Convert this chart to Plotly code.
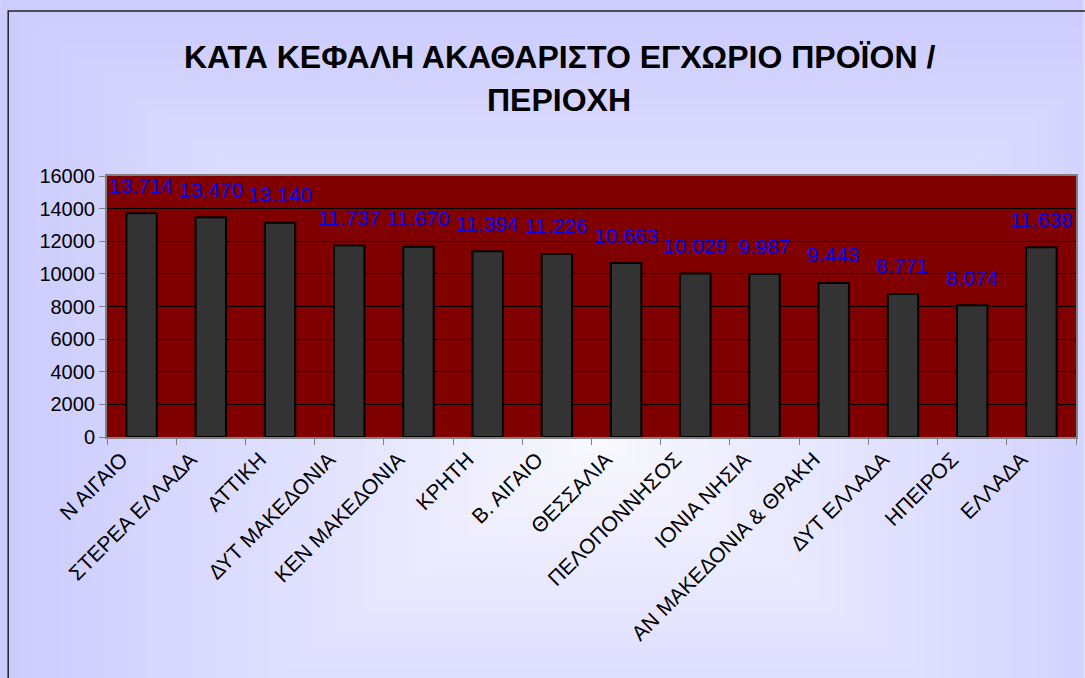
import base64
import struct
import zlib

import numpy as np
import plotly.graph_objects as go

# Data
regions = ["Ν ΑΙΓΑΙΟ", "ΣΤΕΡΕΑ ΕΛΛΑΔΑ", "ΑΤΤΙΚΗ", "ΔΥΤ ΜΑΚΕΔΟΝΙΑ", "ΚΕΝ ΜΑΚΕΔΟΝΙΑ",
           "ΚΡΗΤΗ", "Β. ΑΙΓΑΙΟ", "ΘΕΣΣΑΛΙΑ", "ΠΕΛΟΠΟΝΝΗΣΟΣ", "ΙΟΝΙΑ ΝΗΣΙΑ",
           "ΑΝ ΜΑΚΕΔΟΝΙΑ & ΘΡΑΚΗ", "ΔΥΤ ΕΛΛΑΔΑ", "ΗΠΕΙΡΟΣ", "ΕΛΛΑΔΑ"]
gdp_per_capita = [13714, 13470, 13140, 11737, 11670, 11394, 11226, 10663,
                  10029, 9987, 9443, 8771, 8074, 11638]
y_ticks = [0, 2000, 4000, 6000, 8000, 10000, 12000, 14000, 16000]

title_lines = ["ΚΑΤΑ ΚΕΦΑΛΗ ΑΚΑΘΑΡΙΣΤΟ ΕΓΧΩΡΙΟ ΠΡΟΪΟΝ /", "ΠΕΡΙΟΧΗ"]

FONT = "Liberation Sans, Arial, sans-serif"
W, H = 1085, 678
L, R, T, B = 107, 1078, 176, 437  # plot area in pixels
PW, PH = R - L, B - T


def px_x(x):
    return (x - L) / PW


def px_y(y):
    return (B - y) / PH


# Background gradient (light centre fading to lavender), as a small png
def gradient_png(w, h):
    ys, xs = np.mgrid[0:h, 0:w]
    fx = xs * W / (w - 1)
    fy = ys * H / (h - 1)
    t = np.maximum(np.abs(fx - 600) / 600, np.abs(fy - 440) / 440)
    t = np.clip(t, 0, 1) ** 0.9
    light = np.array([250, 250, 255])
    dark = np.array([204, 204, 255])
    img = (light[None, None, :] * (1 - t[..., None]) + dark[None, None, :] * t[..., None]).astype(np.uint8)
    raw = b"".join(b"\x00" + img[r].tobytes() for r in range(h))

    def chunk(tag, data):
        return struct.pack(">I", len(data)) + tag + data + struct.pack(">I", zlib.crc32(tag + data) & 0xffffffff)

    png = b"\x89PNG\r\n\x1a\n"
    png += chunk(b"IHDR", struct.pack(">IIBBBBB", w, h, 8, 2, 0, 0, 0))
    png += chunk(b"IDAT", zlib.compress(raw, 9))
    png += chunk(b"IEND", b"")
    return "data:image/png;base64," + base64.b64encode(png).decode()


fig = go.Figure(go.Bar(
    x=regions,
    y=gdp_per_capita,
    marker=dict(color="#333333", line=dict(color="black", width=2)),
    width=0.44,
    hoverinfo="x+y",
))

# data labels (Greek thousands separator)
for reg, val in zip(regions, gdp_per_capita):
    fig.add_annotation(
        x=reg, y=val, text=f"{val:,}".replace(",", "."),
        showarrow=False, yshift=28, yanchor="middle",
        font=dict(family=FONT, size=21, color="#0000FF"),
    )

# title
for i, line in enumerate(title_lines):
    fig.add_annotation(
        xref="paper", yref="paper", x=px_x(560), y=px_y(57 + 43 * i),
        text=f"<b>{line}</b>", showarrow=False, xanchor="center", yanchor="middle",
        font=dict(family=FONT, size=32, color="black"),
    )

fig.update_layout(
    width=W, height=H,
    margin=dict(l=L, r=W - R, t=T, b=H - B, pad=0),
    paper_bgcolor="#DCDCFF",
    plot_bgcolor="#800000",
    showlegend=False,
    images=[dict(
        source=gradient_png(272, 170), xref="paper", yref="paper",
        x=px_x(0), y=px_y(0), sizex=W / PW, sizey=H / PH,
        xanchor="left", yanchor="top", sizing="stretch", layer="below",
    )],
    shapes=[
        dict(type="rect", xref="paper", yref="paper", x0=0, x1=1, y0=0, y1=1,
             fillcolor="#800000", line=dict(width=0), layer="below"),
        dict(type="rect", xref="paper", yref="paper", x0=px_x(8), x1=px_x(W + 20),
             y0=px_y(H + 20), y1=px_y(11), line=dict(color="#222222", width=1.5),
             fillcolor="rgba(0,0,0,0)", layer="below"),
    ],
)

fig.update_xaxes(
    type="category", tickangle=-45, tickson="boundaries",
    ticks="outside", ticklen=6, tickcolor="#808080",
    ticklabelshift=-20,
    showline=True, linecolor="#808080", linewidth=2, mirror=True,
    showgrid=False,
    tickfont=dict(family=FONT, size=21, color="black"),
)
fig.update_yaxes(
    range=[0, 16000], tickvals=y_ticks, tickformat="d",
    ticks="outside", ticklen=6, tickcolor="#808080",
    showline=True, linecolor="#808080", linewidth=2, mirror=True,
    showgrid=True, gridcolor="black", gridwidth=1, zeroline=False,
    tickfont=dict(family=FONT, size=20, color="black"),
)

fig.write_html("out.html", config={"displayModeBar": False},
               post_script="document.body.style.margin = '0';")
